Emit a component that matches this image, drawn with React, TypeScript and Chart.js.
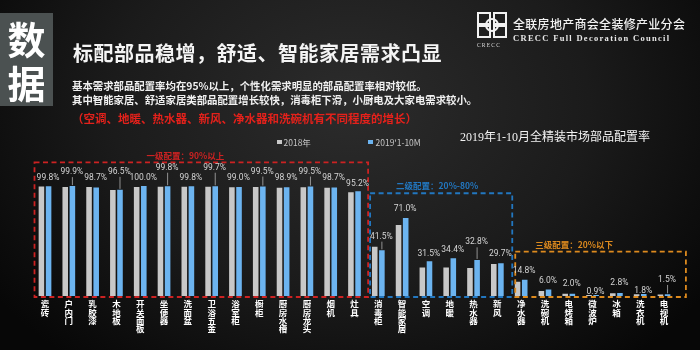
import React, { useEffect, useRef } from "react";
import { Chart, registerables } from "chart.js";

Chart.register(...registerables);

// ---------- data ----------
const categories = [
  "瓷砖", "户内门", "乳胶漆", "木地板", "开关面板", "坐便器", "洗面盆", "卫浴五金", "浴室柜",
  "橱柜", "厨房水槽", "厨房龙头", "烟机", "灶具", "消毒柜", "智能家居", "空调", "地暖",
  "热水器", "新风", "净水器", "洗碗机", "电烤箱", "微波炉", "冰箱", "洗衣机", "电视机",
];
const series2018 = [
  99.6, 99.0, 99.0, 96.4, 99.2, 99.3, 99.4, 99.3, 98.8, 99.0, 98.5, 98.9, 98.3, 94.4,
  44.8, 64.5, 26.0, 26.0, 25.5, 29.1, 13.0, 4.5, 2.0, 1.0, 2.5, 1.5, 1.3,
];
const series2019 = [
  99.8, 99.9, 98.7, 96.5, 100.0, 99.8, 99.8, 99.7, 99.0, 99.5, 98.9, 99.5, 98.7, 95.2,
  41.5, 71.0, 31.5, 34.4, 32.8, 29.7, 14.8, 6.0, 2.0, 0.9, 2.8, 1.8, 1.5,
];
const seriesNames = ["2018年", "2019'1-10M"];
const zoneNames = ["一级配置：90%以上", "二级配置：20%-80%", "三级配置：20%以下"];
const zoneRanges = [[0, 13], [14, 19], [20, 26]];
const zoneTops = [121.5, 93.4, 40.3];
const chartTitle = "2019年1-10月全精装市场部品配置率";

// ---------- style / layout ----------
const labelGaps = [
  8.5, 14, 9.4, 18, 8, 18.5, 8.5, 18.6, 9, 15, 9, 15, 9.4, 7.3,
  13.7, 9, 7.4, 8.2, 17.6, 9.3, 8.7, 8.7, 9.5, 3.3, 9.6, 3, 14.4,
];
const zoneColors = ["#cc2222", "#2277c0", "#dd8a1e"];
const zoneInsets = [[1.4, 1.7], [3.7, 3], [6, 10]];
const zoneLabelOffsets = [112, 26, 20];
const CJK = '"Noto Sans CJK SC", sans-serif';

const annotPlugin = {
  id: "annot",
  afterDatasetsDraw(chart: any) {
    const ctx = chart.ctx;
    const xs = chart.scales.x;
    const ys = chart.scales.y;
    const meta1 = chart.getDatasetMeta(1);
    const pitch = xs.getPixelForValue(1) - xs.getPixelForValue(0);
    ctx.save();
    zoneRanges.forEach(([a, b], k) => {
      const left = xs.getPixelForValue(a) - pitch / 2 + zoneInsets[k][0];
      const right = xs.getPixelForValue(b) + pitch / 2 + zoneInsets[k][1];
      const top = ys.getPixelForValue(zoneTops[k]);
      const bottom = chart.chartArea.bottom + 1;
      ctx.strokeStyle = zoneColors[k];
      ctx.lineWidth = 1.8;
      ctx.setLineDash([5, 3.5]);
      ctx.strokeRect(left, top, right - left, bottom - top);
      ctx.setLineDash([]);
      ctx.fillStyle = zoneColors[k];
      ctx.font = `bold 8.5px ${CJK}`;
      ctx.textBaseline = "middle";
      ctx.textAlign = "left";
      ctx.fillText(zoneNames[k], left + zoneLabelOffsets[k], top - 7);
    });
    ctx.font = '8.5px Roboto, "Liberation Sans", sans-serif';
    ctx.textAlign = "center";
    ctx.textBaseline = "middle";
    series2019.forEach((v, i) => {
      const bar = meta1.data[i];
      const topY = bar.y;
      const cx = xs.getPixelForValue(i) + 3;
      const ly = topY - labelGaps[i];
      ctx.fillStyle = "#d4d4d4";
      ctx.fillText(v.toFixed(1) + "%", cx, ly);
      if (labelGaps[i] > 12) {
        ctx.strokeStyle = "#b0b0b0";
        ctx.lineWidth = 0.8;
        ctx.beginPath();
        ctx.moveTo(bar.x, ly + 5);
        ctx.lineTo(bar.x, topY - 1);
        ctx.stroke();
      }
    });
    ctx.restore();
  },
};

function Abs(props: { left: number; top: number; h: number; style?: any; children: any }) {
  return (
    <div
      style={{
        position: "absolute",
        left: props.left,
        top: props.top - props.h / 2,
        height: props.h,
        lineHeight: props.h + "px",
        whiteSpace: "nowrap",
        ...props.style,
      }}
    >
      {props.children}
    </div>
  );
}

export default function App() {
  const ref = useRef<HTMLCanvasElement | null>(null);
  useEffect(() => {
    if (!ref.current) return;
    const chart = new Chart(ref.current, {
      type: "bar",
      data: {
        labels: categories.map((c) => c.split("")),
        datasets: [
          {
            label: seriesNames[0],
            data: series2018,
            backgroundColor: "#c8c8c8",
            barPercentage: 0.78,
            categoryPercentage: 0.6,
          },
          {
            label: seriesNames[1],
            data: series2019,
            backgroundColor: "#6cb4f0",
            barPercentage: 0.78,
            categoryPercentage: 0.6,
          },
        ],
      },
      options: {
        responsive: false,
        animation: false,
        layout: { padding: { top: 158.5, left: 33.1, right: 24.1, bottom: 0 } },
        plugins: {
          legend: { display: false },
          tooltip: { enabled: false },
          title: { display: false },
        },
        scales: {
          x: {
            grid: { display: false, drawTicks: false },
            border: { display: false },
            ticks: {
              color: "#ffffff",
              font: { family: CJK, size: 8.5, weight: "bold", lineHeight: 0.98 },
              padding: 4,
              maxRotation: 0,
              minRotation: 0,
              autoSkip: false,
            },
            afterFit: (s: any) => {
              s.height = 54;
            },
          },
          y: { display: false, min: 0, max: 125 },
        },
      },
      plugins: [annotPlugin],
    } as any);
    return () => chart.destroy();
  }, []);

  return (
    <div
      style={{
        position: "fixed",
        left: 0,
        top: 0,
        width: 700,
        height: 350,
        overflow: "hidden",
        background:
          "radial-gradient(ellipse 62% 95% at 50% 30%, #2c2c2c 0%, #1b1b1b 55%, #070707 100%)",
        fontFamily: CJK,
        color: "#fff",
      }}
    >
      <canvas
        ref={ref}
        width={700}
        height={350}
        style={{ position: "absolute", left: 0, top: 0, width: 700, height: 350 }}
      />
      {/* 数据 block */}
      <div
        style={{
          position: "absolute",
          left: 0,
          top: 13,
          width: 53,
          height: 93,
          background: "#4b5151",
        }}
      />
      <Abs left={0} top={38} h={44} style={{ width: 53, textAlign: "center", fontSize: 38, fontWeight: 700 }}>
        数
      </Abs>
      <Abs left={0} top={82} h={44} style={{ width: 53, textAlign: "center", fontSize: 38, fontWeight: 700 }}>
        据
      </Abs>
      <Abs left={73} top={53} h={26} style={{ fontSize: 20, fontWeight: 700, letterSpacing: 0.5, color: "#f4f4f4" }}>
        标配部品稳增，舒适、智能家居需求凸显
      </Abs>
      <Abs left={72} top={86} h={14} style={{ fontSize: 10.4, fontWeight: 700, color: "#f0f0f0" }}>
        基本需求部品配置率均在95%以上，个性化需求明显的部品配置率相对较低。
      </Abs>
      <Abs left={72} top={100} h={14} style={{ fontSize: 10.4, fontWeight: 700, color: "#f0f0f0" }}>
        其中智能家居、舒适家居类部品配置增长较快，消毒柜下滑，小厨电及大家电需求较小。
      </Abs>
      <Abs left={72} top={118} h={16} style={{ fontSize: 11.5, fontWeight: 700, color: "#e3211b" }}>
        （空调、地暖、热水器、新风、净水器和洗碗机有不同程度的增长）
      </Abs>
      {/* logo */}
      <svg
        width={30}
        height={26}
        viewBox="0 0 30 26"
        style={{ position: "absolute", left: 477, top: 12 }}
      >
        <g fill="none" stroke="#f2f2f2" strokeWidth={2}>
          <rect x={1} y={1} width={12} height={11} />
          <rect x={17} y={1} width={12} height={11} />
          <rect x={1} y={14} width={12} height={11} />
          <rect x={17} y={14} width={12} height={11} />
          <circle cx={15} cy={13} r={6} />
        </g>
      </svg>
      <Abs left={477} top={45} h={7} style={{ fontSize: 5.5, letterSpacing: 1.2, color: "#ddd", fontFamily: '"Liberation Serif", serif' }}>
        CRECC
      </Abs>
      <Abs left={513} top={23.5} h={16} style={{ fontSize: 12, letterSpacing: 0.3, color: "#f2f2f2", fontWeight: 500 }}>
        全联房地产商会全装修产业分会
      </Abs>
      <Abs
        left={513}
        top={38.5}
        h={11}
        style={{ fontSize: 8.5, letterSpacing: 1.3, color: "#e8e8e8", fontWeight: 700, fontFamily: '"Liberation Serif", serif' }}
      >
        CRECC Full Decoration Council
      </Abs>
      {/* chart title */}
      <Abs
        left={460}
        top={137}
        h={16}
        style={{ fontSize: 12, color: "#f2f2f2", fontFamily: '"Liberation Serif", "Noto Sans CJK SC", serif' }}
      >
        {chartTitle}
      </Abs>
      {/* legend */}
      <div style={{ position: "absolute", left: 277, top: 139.5, width: 4.5, height: 4.5, background: "#c8c8c8" }} />
      <Abs left={283.5} top={141.7} h={12} style={{ fontSize: 8.5, color: "#c4c4c4" }}>
        {seriesNames[0]}
      </Abs>
      <div style={{ position: "absolute", left: 368, top: 139.5, width: 4.5, height: 4.5, background: "#6cb4f0" }} />
      <Abs left={375.5} top={141.7} h={12} style={{ fontSize: 8.5, color: "#c4c4c4" }}>
        {seriesNames[1]}
      </Abs>
    </div>
  );
}
